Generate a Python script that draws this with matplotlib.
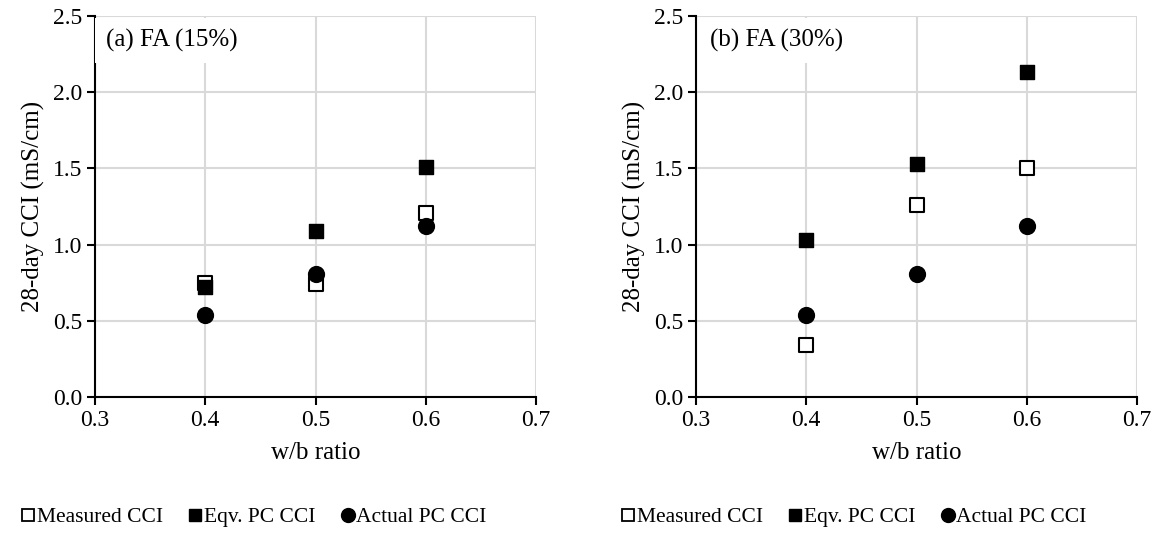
import matplotlib
matplotlib.use('Agg')
import matplotlib.pyplot as plt
from matplotlib.lines import Line2D

plt.rcParams['font.family'] = ['Liberation Serif', 'DejaVu Serif']
plt.rcParams['font.size'] = 17

# Data
wb = [0.4, 0.5, 0.6]
panel_titles = ['(a) FA (15%)', '(b) FA (30%)']
measured_15 = [0.75, 0.74, 1.21]
eqv_15 = [0.72, 1.09, 1.51]
actual_15 = [0.54, 0.81, 1.12]
measured_30 = [0.34, 1.26, 1.50]
eqv_30 = [1.03, 1.53, 2.13]
actual_30 = [0.54, 0.81, 1.12]
legend_labels = ['Measured CCI', 'Eqv. PC CCI', 'Actual PC CCI']
x_ticks = [0.3, 0.4, 0.5, 0.6, 0.7]
y_ticks = [0.0, 0.5, 1.0, 1.5, 2.0, 2.5]

W, H = 1158, 541
AX_W, AX_H = 441, 381
fig = plt.figure(figsize=(W / 100, H / 100), dpi=100)

# axes left edge (px), legend centre (px), title offset (px)
panels = [
    (95, 252, 11, (measured_15, eqv_15, actual_15)),
    (696, 852, 14, (measured_30, eqv_30, actual_30)),
]

for i, (x0, leg_x, title_dx, (meas, eqv, act)) in enumerate(panels):
    ax = fig.add_axes([x0 / W, 1 - 397 / H, AX_W / W, AX_H / H])
    ax.scatter(wb, meas, marker='s', s=110, facecolor='white',
               edgecolor='black', linewidth=1.5, zorder=3)
    ax.scatter(wb, eqv, marker='s', s=110, color='black', zorder=4)
    ax.scatter(wb, act, marker='o', s=130, color='black', zorder=5)

    ax.set_xlim(0.3, 0.7)
    ax.set_ylim(0, 2.5)
    ax.set_xticks(x_ticks)
    ax.set_yticks(y_ticks)
    ax.set_xticklabels([f'{v:.1f}' for v in x_ticks])
    ax.set_yticklabels([f'{v:.1f}' for v in y_ticks])
    ax.grid(True, color='#d9d9d9', linewidth=1.5)
    ax.set_axisbelow(True)
    for side in ['top', 'right']:
        ax.spines[side].set_visible(False)
    for side in ['left', 'bottom']:
        ax.spines[side].set_linewidth(1.5)
    ax.tick_params(direction='out', length=6, width=1.5, pad=3)
    ax.set_xlabel('w/b ratio', fontsize=18, labelpad=8)
    ax.set_ylabel('28-day CCI (mS/cm)', fontsize=18, labelpad=6)

    ax.text(title_dx / AX_W, 1 - 13 / AX_H, panel_titles[i],
            transform=ax.transAxes, ha='left', va='top', fontsize=18,
            zorder=10,
            bbox=dict(facecolor='white', edgecolor='none',
                      boxstyle='square,pad=0.45'))

    handles = [
        Line2D([], [], marker='s', linestyle='none', markersize=8,
               markerfacecolor='white', markeredgecolor='black', markeredgewidth=1.3),
        Line2D([], [], marker='s', linestyle='none', markersize=8, color='black'),
        Line2D([], [], marker='o', linestyle='none', markersize=10, color='black'),
    ]
    fig.legend(handles, legend_labels, loc='center',
               bbox_to_anchor=(leg_x / W, 1 - 517 / H), ncol=3,
               frameon=False, fontsize=15.5, handletextpad=-0.1,
               columnspacing=1.0, handlelength=1.0)

fig.savefig('out.png', dpi=100)
